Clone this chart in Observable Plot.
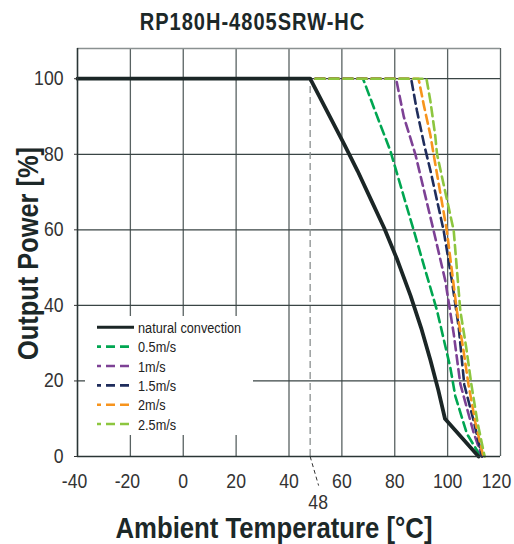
<!DOCTYPE html>
<html><head><meta charset="utf-8">
<script src="https://cdn.jsdelivr.net/npm/d3@7"></script>
<script src="https://cdn.jsdelivr.net/npm/@observablehq/plot@0.6"></script>
<style>
body{margin:0;background:#fff;}
#wrap{position:relative;width:514px;height:544px;font-family:"Liberation Sans",Arial,sans-serif;}
#title{position:absolute;left:0;top:9.7px;width:505px;text-align:center;font-weight:bold;font-size:24px;line-height:24px;letter-spacing:1.2px;color:#1c2828;transform:scaleX(0.835);transform-origin:252.5px 0;white-space:nowrap;}
#chart{position:absolute;left:0;top:40px;}
#legend{position:absolute;left:85px;top:316px;overflow:visible;}
</style></head>
<body>
<div id="wrap">
  <div id="title">RP180H-4805SRW-HC</div>
  <div id="chart"></div>
  <svg id="legend" width="200" height="119"></svg>
</div>
<script>
// ---- data ----
const naturalT = [-40, 48, 61, 66, 71, 76, 81, 86, 90, 93.5, 96.5, 99, 111.7];
const naturalP = [100, 100, 82.5, 75.5, 68, 60.5, 52, 42.5, 34, 25.5, 17.5, 10, 0];

const air05T = [-40, 68, 73.9, 78.3, 87.2, 96, 101, 102.9, 107.3, 112.5];
const air05P = [100, 100, 89, 81, 59.8, 38.6, 23.6, 16, 6, 0];

const air1T = [-40, 80.5, 83.4, 87.8, 94.7, 99.1, 102.3, 104.8, 109.8, 113];
const air1P = [100, 100, 90, 80, 59.8, 46.6, 32.5, 19.2, 6.4, 0];

const air15T = [-40, 86.2, 88.4, 91.3, 93.5, 98.5, 101.6, 104.2, 106.3, 110, 113];
const air15P = [100, 100, 91.5, 82, 75.7, 59.8, 46.6, 34.2, 19, 9, 0];

const air2T = [-40, 89, 91, 93.5, 94.7, 99.7, 103.5, 105.8, 107.9, 110.5, 113.5];
const air2P = [100, 100, 93, 85, 80, 59.8, 38.6, 29, 19, 9, 0];

const air25T = [-40, 92, 93.5, 95.3, 96, 102.3, 104.8, 107, 109, 111.3, 114];
const air25P = [100, 100, 94, 85, 80, 59.8, 38.6, 29, 19, 9, 0];

const seriesNames = ["natural convection", "0.5m/s", "1m/s", "1.5m/s", "2m/s", "2.5m/s"];
const seriesColors = ["#1b2626", "#00a651", "#7d4195", "#1f2d5c", "#f7941d", "#8dc63f"];

const xTicks = [-40, -20, 0, 20, 40, 60, 80, 100, 120];
const yTicks = [0, 20, 40, 60, 80, 100];
const markerTemp = [48];
const xTitle = "Ambient Temperature [°C]";
const yTitle = "Output Power [%]";

// ---- build tables ----
const toRows = (T, P) => T.map((t, i) => ({t, p: P[i]}));
const natural = toRows(naturalT, naturalP);
const airflows = [
  toRows(air05T, air05P), toRows(air1T, air1P), toRows(air15T, air15P),
  toRows(air2T, air2P), toRows(air25T, air25P)
];

const FONT = '"Liberation Sans",Arial,sans-serif';
const fmt = d => String(d); // plain hyphen-minus like the reference
const xMax = d3.max(xTicks);
const tickStyle = {tickSize: 0, tickPadding: 17, fontSize: 20, fill: "#333", tickFormat: fmt};

const marks = [
  Plot.gridX(xTicks.filter(d => d > -40), {stroke: "#596262", strokeOpacity: 1, strokeWidth: 1.3}),
  Plot.gridY(yTicks.filter(d => d > 0), {stroke: "#3a4545", strokeOpacity: 1, strokeWidth: 1.3}),
  Plot.ruleY([108], {stroke: "#8a9191", strokeWidth: 1.3}),
  Plot.ruleX(markerTemp, {y1: 0, y2: 100, stroke: "#8a8f8f", strokeWidth: 1.3, strokeDasharray: "7,4"}),
  Plot.link(markerTemp, {x1: d => d, y1: 0, x2: d => d + 3.2, y2: -7.7, stroke: "#333", strokeWidth: 1, strokeDasharray: "4,3"}),
  Plot.text(markerTemp, {x: d => d, text: d => String(d), frameAnchor: "bottom", dx: 8, dy: 52, lineAnchor: "bottom", fontSize: 20, fill: "#333"}),
];
airflows.forEach((rows, i) => {
  marks.push(Plot.line(rows, {x: "t", y: "p", stroke: seriesColors[i + 1], strokeWidth: 2.6, strokeDasharray: "9,5"}));
});
marks.push(
  Plot.line(natural, {x: "t", y: "p", stroke: seriesColors[0], strokeWidth: 3.8}),
  Plot.ruleX([-40], {stroke: "#2a3535", strokeWidth: 1.6}),
  Plot.ruleY([0], {stroke: "#2a3535", strokeWidth: 1.6}),
  Plot.axisX(xTicks.filter(d => d < 0), {...tickStyle, dx: -3}),
  Plot.axisX(xTicks.filter(d => d >= 0 && d < xMax), tickStyle),
  Plot.axisX([xMax], {...tickStyle, dx: -4}),
  Plot.axisY(yTicks, {tickSize: 3, tickPadding: 11, fontSize: 20, fill: "#333", tickFormat: fmt}),
  Plot.text([xTitle], {text: d => d, frameAnchor: "bottom", textAnchor: "middle", dx: -15, dy: 81, lineAnchor: "bottom", fontSize: 30, fontWeight: "bold", fill: "#1c2828"}),
  Plot.text([yTitle], {text: d => d, frameAnchor: "left", textAnchor: "middle", rotate: -90, dx: -40, dy: 1, lineAnchor: "bottom", fontSize: 30, fontWeight: "bold", fill: "#1c2828"})
);

const chart = Plot.plot({
  width: 514, height: 504,
  marginTop: 8, marginLeft: 77, marginRight: 14, marginBottom: 88,
  x: {domain: [-40, 120], label: null},
  y: {domain: [0, 108], label: null},
  style: {fontFamily: FONT, background: "white", color: "#333", overflow: "visible"},
  marks
});
document.getElementById("chart").appendChild(chart);

// condense text (reference uses a condensed typeface)
function condense(t, k, target) {
  const w = t.getComputedTextLength();
  if (!w) return;
  t.setAttribute("textLength", (target || w * k).toFixed(1));
  t.setAttribute("lengthAdjust", "spacingAndGlyphs");
}
chart.querySelectorAll("text").forEach(t => {
  const s = t.textContent;
  if (s === xTitle) condense(t, 0, 317);
  else if (s === yTitle) condense(t, 0, 213);
  else condense(t, 0.88);
});

// ---- legend ----
const lg = d3.select("#legend");
lg.append("rect").attr("width", 168).attr("height", 119).attr("fill", "white");
seriesNames.forEach((name, i) => {
  const cy = 11.3 + i * 19.35;
  lg.append("line").attr("x1", 12).attr("x2", 49).attr("y1", cy).attr("y2", cy)
    .attr("stroke", seriesColors[i]).attr("stroke-width", i === 0 ? 3 : 2.6)
    .attr("stroke-dasharray", i === 0 ? null : "9,5").attr("stroke-dashoffset", i === 0 ? null : 5);
  lg.append("text").attr("x", 53).attr("y", cy + 5.5).attr("font-size", 15.5)
    .attr("font-family", FONT).attr("fill", "#222").text(name);
});
document.querySelectorAll("#legend text").forEach(t => condense(t, 0.82));
</script>
</body></html>
